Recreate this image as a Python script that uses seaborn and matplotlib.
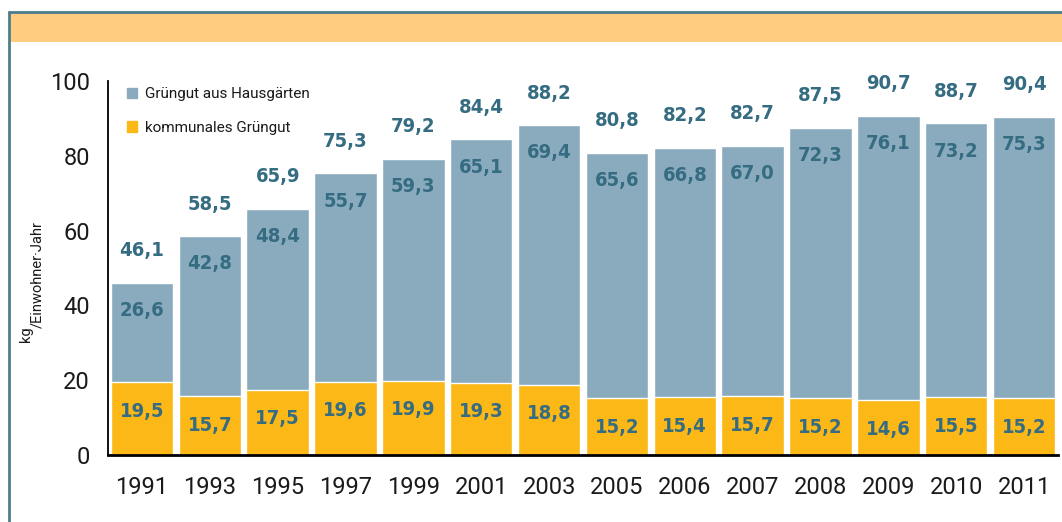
import seaborn as sns
import matplotlib.pyplot as plt
import pandas as pd
import numpy as np
from matplotlib.patches import Rectangle, Patch
from matplotlib.lines import Line2D

years = ["1991", "1993", "1995", "1997", "1999", "2001", "2003",
         "2005", "2006", "2007", "2008", "2009", "2010", "2011"]
total = [46.1, 58.5, 65.9, 75.3, 79.2, 84.4, 88.2, 80.8, 82.2, 82.7, 87.5, 90.7, 88.7, 90.4]
garden = [26.6, 42.8, 48.4, 55.7, 59.3, 65.1, 69.4, 65.6, 66.8, 67.0, 72.3, 76.1, 73.2, 75.3]
communal = [19.5, 15.7, 17.5, 19.6, 19.9, 19.3, 18.8, 15.2, 15.4, 15.7, 15.2, 14.6, 15.5, 15.2]

df = pd.DataFrame({"year": years, "total": total, "garden": garden, "communal": communal})

sns.set_style("white")
plt.rcParams["font.family"] = ["Roboto", "DejaVu Sans"]

c_garden = "#8aabbd"
c_comm = "#fbb817"
c_text = "#356c82"
c_frame = "#4d7d8c"
c_dark = "#1a1a1a"

fig = plt.figure(figsize=(10.62, 5.22), dpi=100)
ax = fig.add_axes([108 / 1062, 1 - 455 / 522, 950 / 1062, 374 / 522])

sns.barplot(data=df, x="year", y="total", color=c_garden, width=0.92,
            edgecolor="white", linewidth=1, saturation=1, ax=ax)
sns.barplot(data=df, x="year", y="communal", color=c_comm, width=0.92,
            edgecolor="white", linewidth=1, saturation=1, ax=ax)

lab_font = dict(family=["DejaVu Sans"], stretch="condensed", weight="bold",
                fontsize=14.5, color=c_text, ha="center", va="center")
for i in range(len(years)):
    ax.annotate(f"{total[i]:.1f}".replace(".", ","), (i, total[i]),
                xytext=(0, 23), textcoords="offset points", **lab_font)
    ax.annotate(f"{garden[i]:.1f}".replace(".", ","), (i, total[i]),
                xytext=(0, -20), textcoords="offset points", **lab_font)
    ax.annotate(f"{communal[i]:.1f}".replace(".", ","), (i, communal[i]),
                xytext=(0, -21), textcoords="offset points", **lab_font)

ax.set_ylim(0, 100)
ax.set_xlim(-0.5, len(years) - 0.5)
ax.set_yticks([0, 20, 40, 60, 80, 100])
ax.set_xticks(range(len(years)))
ax.set_xticks(np.arange(-0.5, len(years)), minor=True)
ax.tick_params(axis="x", which="major", length=0, pad=15, labelsize=17, labelcolor=c_dark)
ax.tick_params(axis="x", which="minor", length=8, width=1.2, color="black", direction="out")
ax.tick_params(axis="y", length=8, width=1.2, color="black", direction="out",
               labelsize=17, labelcolor=c_dark, pad=5)
sns.despine(ax=ax, top=True, right=True)
ax.spines["left"].set_color("black")
ax.spines["left"].set_linewidth(1.3)
ax.spines["bottom"].set_color("black")
ax.spines["bottom"].set_linewidth(2)
ax.set_xlabel("")
ax.set_ylabel("")

# y axis unit: kg / Einwohner·Jahr with lowered second part
fig.text(30 / 1062, 1 - 342 / 522, "kg", rotation=90, rotation_mode="anchor",
         ha="left", va="baseline", fontsize=10.5, color=c_dark)
fig.text(41 / 1062, 1 - 328 / 522, "/Einwohner\u00b7Jahr", rotation=90, rotation_mode="anchor",
         ha="left", va="baseline", fontsize=10.5, color=c_dark)

handles = [Patch(color=c_garden, label="Grüngut aus Hausgärten"),
           Patch(color=c_comm, label="kommunales Grüngut")]
ax.legend(handles=handles, loc="upper left", bbox_to_anchor=(0.005, 1.02), frameon=False,
          fontsize=11, handlelength=0.7, handleheight=0.7, handletextpad=0.5,
          labelspacing=1.3, labelcolor=c_dark)

# frame and header band
fig.add_artist(Rectangle((10 / 1062, 1 - 42 / 522), 1, 30 / 522, transform=fig.transFigure,
                         facecolor="#ffcc80", edgecolor="none"))
fig.add_artist(Line2D([9 / 1062, 1], [1 - 12 / 522, 1 - 12 / 522], transform=fig.transFigure,
                      color=c_frame, linewidth=2))
fig.add_artist(Line2D([9 / 1062, 9 / 1062], [0, 1 - 12 / 522], transform=fig.transFigure,
                      color=c_frame, linewidth=2))

fig.savefig("out.png", dpi=100)
